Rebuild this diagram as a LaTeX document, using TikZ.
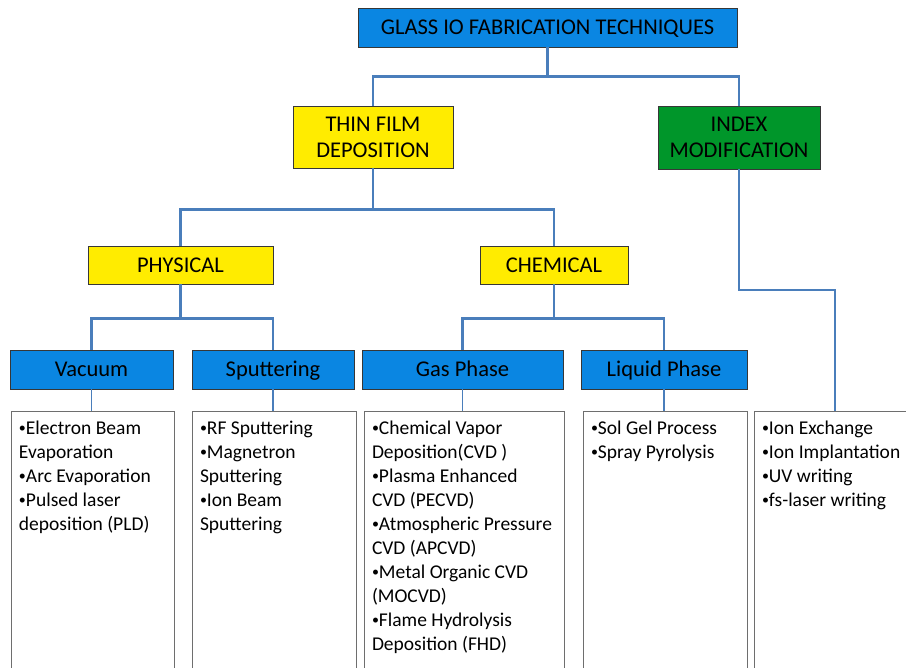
\documentclass[tikz,border=0pt]{standalone}
\usepackage{fontspec}
\setmainfont{Carlito}
\definecolor{boxblue}{RGB}{10,134,226}
\definecolor{boxyellow}{RGB}{255,236,0}
\definecolor{boxgreen}{RGB}{0,150,42}
\definecolor{connblue}{RGB}{74,126,187}
\definecolor{edgegray}{RGB}{55,55,55}
\definecolor{listgray}{RGB}{110,110,110}
\newcommand\blt{\raisebox{0.12em}{\fontsize{14}{14}\selectfont•}}
\begin{document}
\begin{tikzpicture}[x=1pt,y=-1pt,
  hdr/.style={draw=edgegray, line width=0.9pt, inner sep=0pt, align=center,
    font=\fontsize{22.5}{26}\selectfont, text=black},
  oneline/.style={text height=14.5pt, text depth=0pt},
  bluebox/.style={hdr, fill=boxblue},
  yellowbox/.style={hdr, fill=boxyellow},
  greenbox/.style={hdr, fill=boxgreen},
  listbox/.style={draw=listgray, line width=0.9pt, anchor=north, inner xsep=8pt, inner ysep=10pt,
    font=\fontsize{19.5}{24}\selectfont},
  conn/.style={draw=connblue, line width=2.2pt},
  thinconn/.style={draw=connblue, line width=1.4pt}]
\path[use as bounding box] (0,0) rectangle (906,668);
\clip (0,0) rectangle (906,668);
\fill[white] (0,0) rectangle (906,668);

% level 1
\node[bluebox, oneline, minimum width=379pt, minimum height=39pt] (title) at (547.5,27.5) {GLASS IO FABRICATION TECHNIQUES};
% level 2
\node[yellowbox, minimum width=160pt, minimum height=62pt] (thin) at (373,137) {THIN FILM\\DEPOSITION};
\node[greenbox, minimum width=162pt, minimum height=63pt] (index) at (739,137.5) {INDEX\\MODIFICATION};
% level 3
\node[yellowbox, oneline, minimum width=185pt, minimum height=38pt] (phys) at (180.5,265) {PHYSICAL};
\node[yellowbox, oneline, minimum width=148pt, minimum height=38pt] (chem) at (554,265) {CHEMICAL};
% level 4
\node[bluebox, oneline, minimum width=163pt, minimum height=39pt] (vac) at (91.5,369.5) {Vacuum};
\node[bluebox, oneline, minimum width=162pt, minimum height=39pt] (sput) at (273,369.5) {Sputtering};
\node[bluebox, oneline, minimum width=201pt, minimum height=39pt] (gas) at (462.5,369.5) {Gas Phase};
\node[bluebox, oneline, minimum width=166pt, minimum height=39pt] (liq) at (664,369.5) {Liquid Phase};
% lists
\node[listbox] (l1) at (92.5,411) {\parbox[t][300pt][t]{147pt}{\raggedright
  \blt Electron Beam\\Evaporation\\\blt Arc Evaporation\\\blt Pulsed laser\\deposition (PLD)}};
\node[listbox] (l2) at (274,411) {\parbox[t][300pt][t]{148pt}{\raggedright
  \blt RF Sputtering\\\blt Magnetron\\Sputtering\\\blt Ion Beam\\Sputtering}};
\node[listbox] (l3) at (464,411) {\parbox[t][300pt][t]{184pt}{\raggedright
  \blt Chemical Vapor\\Deposition(CVD )\\\blt Plasma Enhanced\\CVD (PECVD)\\\blt Atmospheric Pressure\\CVD (APCVD)\\\blt Metal Organic CVD\\(MOCVD)\\\blt Flame Hydrolysis\\Deposition (FHD)}};
\node[listbox] (l4) at (665,411) {\parbox[t][300pt][t]{148pt}{\raggedright
  \blt Sol Gel Process\\\blt Spray Pyrolysis}};
\node[listbox] (l5) at (835,411) {\parbox[t][300pt][t]{146pt}{\raggedright
  \blt Ion Exchange\\\blt Ion Implantation\\\blt UV writing\\\blt fs-laser writing}};

% connectors
\draw[conn] (title.south) -- ++(0,29) -| (thin.north);
\draw[conn] (title.south) -- ++(0,29) -| (index.north);
\draw[conn] (thin.south) -- ++(0,41) -| (phys.north);
\draw[conn] (thin.south) -- ++(0,41) -| (chem.north);
\draw[conn] (phys.south) -- ++(0,34) -| (vac.north);
\draw[conn] (phys.south) -- ++(0,34) -| (sput.north);
\draw[conn] (chem.south) -- ++(0,34) -| (gas.north);
\draw[conn] (chem.south) -- ++(0,34) -| (liq.north);
\draw[conn] (index.south) -- ++(0,120.5) -| (l5.north);
\draw[thinconn] (vac.south) -- (vac.south |- l1.north);
\draw[thinconn] (sput.south) -- (sput.south |- l2.north);
\draw[thinconn] (gas.south) -- (gas.south |- l3.north);
\draw[thinconn] (liq.south) -- (liq.south |- l4.north);
\end{tikzpicture}
\end{document}
